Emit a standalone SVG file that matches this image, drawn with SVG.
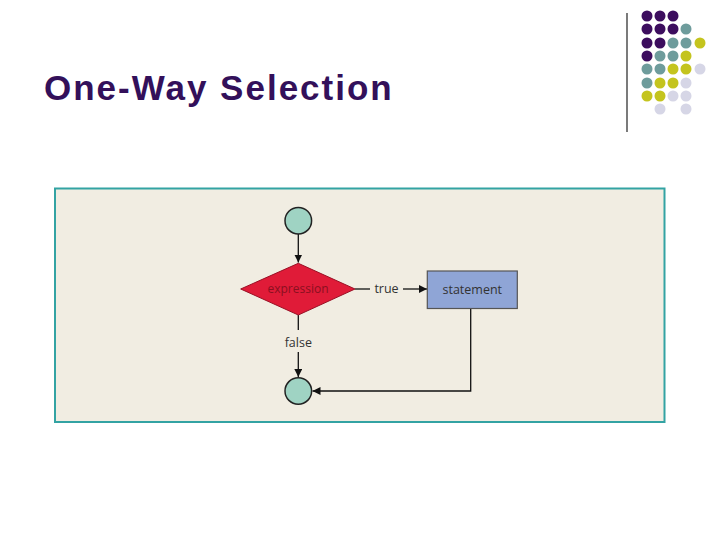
<svg xmlns="http://www.w3.org/2000/svg" width="720" height="540" viewBox="0 0 720 540">
<defs>
<style>
.pu{fill:#3c0d5e}.te{fill:#6e9c9c}.ye{fill:#c4c41e}.la{fill:#d6d6e6}
.lbl{font-family:"Open Sans","Liberation Sans",sans-serif;font-size:12.5px;fill:#333;text-anchor:middle}
.ln{stroke:#111;stroke-width:1.3;fill:none}
.term{fill:#9fd3c3;stroke:#222;stroke-width:1.5}
</style>
<marker id="ah" viewBox="0 0 10 10" refX="10" refY="5" markerWidth="8" markerHeight="8" markerUnits="userSpaceOnUse" orient="auto">
<path d="M0,0 L10,5 L0,10 z" fill="#111"/>
</marker>
</defs>
<rect width="720" height="540" fill="#ffffff"/>
<g id="decor">
<line x1="627" y1="13" x2="627" y2="132" stroke="#222" stroke-width="1.2"/>
<g>
<circle class="pu" cx="647" cy="16" r="5.5"/><circle class="pu" cx="660" cy="16" r="5.5"/><circle class="pu" cx="673" cy="16" r="5.5"/>
<circle class="pu" cx="647" cy="29" r="5.5"/><circle class="pu" cx="660" cy="29" r="5.5"/><circle class="pu" cx="673" cy="29" r="5.5"/><circle class="te" cx="686" cy="29" r="5.5"/>
<circle class="pu" cx="647" cy="43" r="5.5"/><circle class="pu" cx="660" cy="43" r="5.5"/><circle class="te" cx="673" cy="43" r="5.5"/><circle class="te" cx="686" cy="43" r="5.5"/><circle class="ye" cx="700" cy="43" r="5.5"/>
<circle class="pu" cx="647" cy="56" r="5.5"/><circle class="te" cx="660" cy="56" r="5.5"/><circle class="te" cx="673" cy="56" r="5.5"/><circle class="ye" cx="686" cy="56" r="5.5"/>
<circle class="te" cx="647" cy="69" r="5.5"/><circle class="te" cx="660" cy="69" r="5.5"/><circle class="ye" cx="673" cy="69" r="5.5"/><circle class="ye" cx="686" cy="69" r="5.5"/><circle class="la" cx="700" cy="69" r="5.5"/>
<circle class="te" cx="647" cy="83" r="5.5"/><circle class="ye" cx="660" cy="83" r="5.5"/><circle class="ye" cx="673" cy="83" r="5.5"/><circle class="la" cx="686" cy="83" r="5.5"/>
<circle class="ye" cx="647" cy="96" r="5.5"/><circle class="ye" cx="660" cy="96" r="5.5"/><circle class="la" cx="673" cy="96" r="5.5"/><circle class="la" cx="686" cy="96" r="5.5"/>
<circle class="la" cx="660" cy="109" r="5.5"/><circle class="la" cx="686" cy="109" r="5.5"/>
</g>
</g>
<text id="title" x="44" y="100" font-family="'Liberation Sans',Arial,sans-serif" font-weight="bold" font-size="35" letter-spacing="2" fill="#33105a">One-Way Selection</text>
<rect id="panel" x="55" y="188.5" width="609.5" height="233.5" fill="#f1ede2" stroke="#33a3a3" stroke-width="2"/>
<g id="connectors">
<line class="ln" x1="298.3" y1="234" x2="298.3" y2="262.5" marker-end="url(#ah)"/>
<line class="ln" x1="355" y1="289" x2="370" y2="289"/>
<line class="ln" x1="403" y1="289" x2="427" y2="289" marker-end="url(#ah)"/>
<line class="ln" x1="298.3" y1="315" x2="298.3" y2="330"/>
<line class="ln" x1="298.3" y1="352" x2="298.3" y2="377" marker-end="url(#ah)"/>
<polyline class="ln" points="470.7,308.5 470.7,391 312.5,391" marker-end="url(#ah)"/>
<text class="lbl" x="386.5" y="293">true</text>
<text class="lbl" x="298.3" y="347">false</text>
</g>
<g id="start"><circle class="term" cx="298.3" cy="220.7" r="13.3"/></g>
<g id="decision">
<polygon points="240.7,289 298.3,263.3 355,289 298.3,315" fill="#e01b38" stroke="#9a1025" stroke-width="1"/>
<text x="298" y="293" font-family="'Open Sans','Liberation Sans',sans-serif" font-size="12" fill="#8a1020" text-anchor="middle">expression</text>
</g>
<g id="statement">
<rect x="427.3" y="271" width="90" height="37.5" fill="#8fa5d6" stroke="#555" stroke-width="1.2"/>
<text class="lbl" x="472.3" y="294">statement</text>
</g>
<g id="end"><circle class="term" cx="298.3" cy="391" r="13.3"/></g>
</svg>
